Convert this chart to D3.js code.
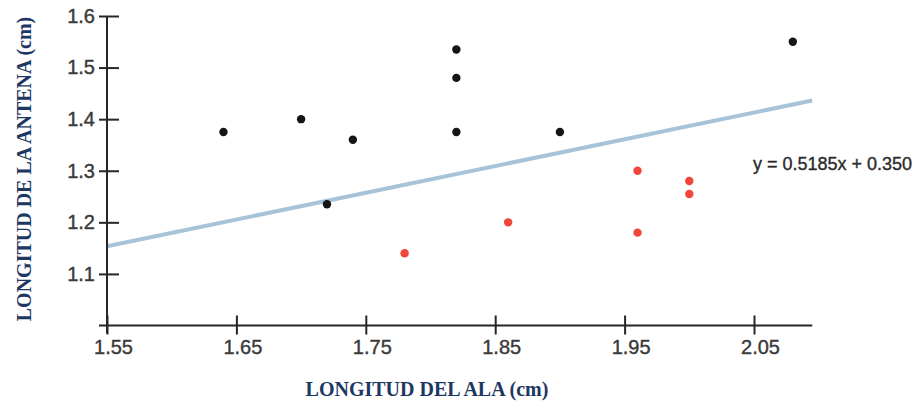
<!DOCTYPE html>
<html>
<head>
<meta charset="utf-8">
<script src="https://cdn.jsdelivr.net/npm/d3@7/dist/d3.min.js"></script>
<style>
  html, body { margin: 0; padding: 0; background: #fff; }
  svg { display: block; }
</style>
</head>
<body>
<svg id="chart" width="922" height="402"></svg>
<script>
// Wing length (x) vs antenna length (y), two groups of specimens
const groupAWing    = [1.64, 1.70, 1.72, 1.74, 1.82, 1.82, 1.82, 1.90, 2.08];
const groupAAntenna = [1.375, 1.40, 1.235, 1.36, 1.375, 1.48, 1.535, 1.375, 1.55];
const groupBWing    = [1.78, 1.86, 1.96, 1.96, 2.00, 2.00];
const groupBAntenna = [1.14, 1.20, 1.18, 1.30, 1.28, 1.255];

// Fitted line y = slope * x + intercept
const slope = 0.5185;
const intercept = 0.350;
const equationLabel = "y = 0.5185x + 0.350";

const xTicks = [1.55, 1.65, 1.75, 1.85, 1.95, 2.05];
const xTickLabels = ["1.55", "1.65", "1.75", "1.85", "1.95", "2.05"];
const yTicks = [1.1, 1.2, 1.3, 1.4, 1.5, 1.6];
const yTickLabels = ["1.1", "1.2", "1.3", "1.4", "1.5", "1.6"];

const xTitle = "LONGITUD DEL ALA (cm)";
const yTitle = "LONGITUD DE LA ANTENA (cm)";

const xAxisEnd = 2.095;   // x axis line runs a little past the last tick
const lineStart = 1.55;

const svg = d3.select("#chart");

const x = d3.scaleLinear().domain([1.55, 2.05]).range([107, 754]);
const y = d3.scaleLinear().domain([1.0, 1.6]).range([325.5, 16]);

const axisColor = "#262626";
const labelColor = "#3a3a3a";
const titleColor = "#1d3763";
const sansFont = "'Liberation Sans', Arial, sans-serif";

// Fitted line
svg.append("line")
  .attr("x1", x(lineStart)).attr("y1", y(slope * lineStart + intercept))
  .attr("x2", x(xAxisEnd)).attr("y2", y(slope * xAxisEnd + intercept))
  .attr("stroke", "#a7c3d8")
  .attr("stroke-width", 4);

// X axis
const xAxis = svg.append("g")
  .attr("transform", `translate(0,${y(1.0)})`)
  .call(d3.axisBottom(x).tickValues(xTicks)
    .tickFormat((d, i) => xTickLabels[i])
    .tickSize(9).tickSizeOuter(0).tickPadding(8));
xAxis.select(".domain").remove();
xAxis.selectAll(".tick line")
  .attr("y1", -10).attr("y2", 9)
  .attr("stroke", axisColor).attr("stroke-width", 2);
xAxis.selectAll(".tick text")
  .attr("dx", 6)
  .attr("y", 28)
  .attr("dy", 0)
  .attr("fill", labelColor)
  .attr("stroke", labelColor)
  .attr("stroke-width", 0.4)
  .style("font-family", sansFont)
  .style("font-size", "20px");
xAxis.append("line")
  .attr("x1", x(1.55) - 8).attr("x2", x(xAxisEnd))
  .attr("y1", 0).attr("y2", 0)
  .attr("stroke", axisColor).attr("stroke-width", 2);

// Y axis
const yAxis = svg.append("g")
  .attr("transform", `translate(${x(1.55)},0)`)
  .call(d3.axisLeft(y).tickValues(yTicks)
    .tickFormat((d, i) => yTickLabels[i])
    .tickSize(8).tickSizeOuter(0).tickPadding(4));
yAxis.select(".domain").remove();
yAxis.selectAll(".tick line")
  .attr("x1", -8).attr("x2", 12)
  .attr("stroke", axisColor).attr("stroke-width", 2);
yAxis.selectAll(".tick text")
  .attr("x", -12)
  .attr("fill", labelColor)
  .attr("stroke", labelColor)
  .attr("stroke-width", 0.4)
  .style("font-family", sansFont)
  .style("font-size", "20px");
yAxis.append("line")
  .attr("x1", 0).attr("x2", 0)
  .attr("y1", y(1.6)).attr("y2", y(1.0) + 8)
  .attr("stroke", axisColor).attr("stroke-width", 2);

// Points
const ptsA = groupAWing.map((w, i) => ({ w, a: groupAAntenna[i] }));
const ptsB = groupBWing.map((w, i) => ({ w, a: groupBAntenna[i] }));

svg.append("g").selectAll("circle").data(ptsA).join("circle")
  .attr("cx", d => x(d.w)).attr("cy", d => y(d.a))
  .attr("r", 4.2).attr("fill", "#151515");

svg.append("g").selectAll("circle").data(ptsB).join("circle")
  .attr("cx", d => x(d.w)).attr("cy", d => y(d.a))
  .attr("r", 4.2).attr("fill", "#f0463c");

// Equation label
svg.append("text")
  .attr("x", 753).attr("y", 170)
  .attr("fill", "#2a2a2a")
  .attr("stroke", "#2a2a2a")
  .attr("stroke-width", 0.35)
  .style("font-family", sansFont)
  .style("font-size", "18px")
  .text(equationLabel);

// Axis titles
svg.append("text")
  .attr("x", 427).attr("y", 396)
  .attr("text-anchor", "middle")
  .attr("fill", titleColor)
  .style("font-family", "'Liberation Serif', 'Times New Roman', serif")
  .style("font-weight", "bold")
  .style("font-size", "20px")
  .text(xTitle);

svg.append("text")
  .attr("transform", "translate(31,169) rotate(-90)")
  .attr("text-anchor", "middle")
  .attr("fill", titleColor)
  .style("font-family", "'Liberation Serif', 'Times New Roman', serif")
  .style("font-weight", "bold")
  .style("font-size", "20px")
  .text(yTitle);
</script>
</body>
</html>
